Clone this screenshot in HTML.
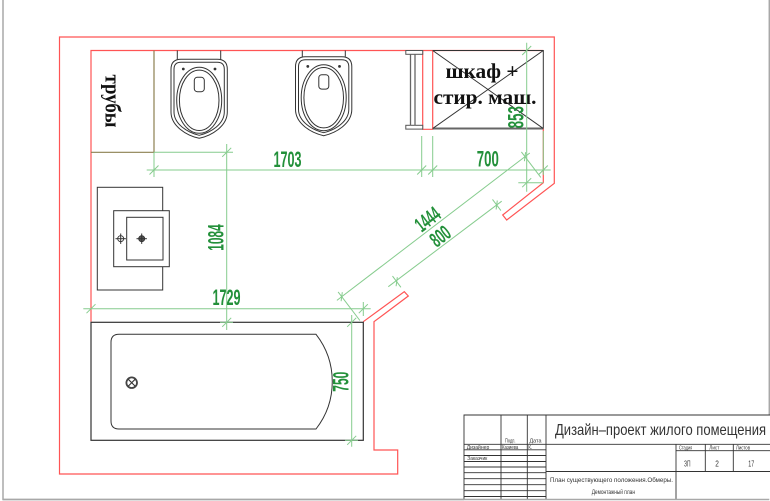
<!DOCTYPE html>
<html>
<head>
<meta charset="utf-8">
<style>
html,body{margin:0;padding:0;background:#fff;}
body{width:770px;height:501px;overflow:hidden;}
svg{display:block;}
.w{fill:none;stroke:#ff5454;stroke-width:1.2;}
.k{fill:none;stroke:#333;stroke-width:1;}
.kf{fill:#fff;stroke:#333;stroke-width:1;}
.g{fill:none;stroke:#86cc8e;stroke-width:1;}
.d{font-family:"Liberation Sans",sans-serif;font-weight:bold;font-size:22px;fill:#23903a;}
.t{font-family:"Liberation Sans","Noto Sans CJK SC",sans-serif;fill:#333;}
.s{font-family:"Liberation Serif","Noto Serif CJK SC",serif;font-weight:bold;font-size:21px;fill:#111;}
.tb{fill:none;stroke:#333;stroke-width:0.9;}
</style>
</head>
<body>
<svg width="770" height="501" viewBox="0 0 770 501" xmlns="http://www.w3.org/2000/svg">
<rect x="0" y="0" width="770" height="501" fill="#fff"/>

<!-- page border -->
<path d="M3,0 V499.5 H769.3 V0" fill="none" stroke="#a8a8a8" stroke-width="1.5"/>

<!-- walls -->
<path class="w" d="M363.3,321.7 L404.3,291.7 L408.3,296 L374,321.7 L374,450 L397.7,450 L397.7,474 L59.5,474 L59.5,37 L554.3,37 L554.3,183.3 L506.7,220 L502.7,215 L543.3,182.7 L543.3,128.5"/>
<path class="w" d="M91,321.7 V50.5 H543.3"/>
<path class="w" d="M422.7,50.5 V129.3 H432.7 V50.5"/>

<!-- pipe box partition -->
<path d="M154,50.5 V152.3 H91" fill="none" stroke="#8c8050" stroke-width="1.2"/>
<text class="s" style="font-size:22px" transform="translate(105.5,101) rotate(90)" text-anchor="middle" textLength="53" lengthAdjust="spacingAndGlyphs">трубы</text>

<!-- toilet 1 -->
<line class="k" x1="177.3" y1="50.5" x2="177.3" y2="59.3"/>
<line class="k" x1="220.7" y1="50.5" x2="220.7" y2="59.3"/>
<g id="toilet">
<path class="kf" d="M171,69.3 Q171,59.3 181,59.3 L217.3,59.3 Q227.3,59.3 227.3,69.3 L227.3,112 C227.3,126 212,135.5 199.2,138.3 C186.4,135.5 171,126 171,112 Z"/>
<path class="k" d="M174,69.3 Q174,62.3 181,62.3 L217.3,62.3 Q224.3,62.3 224.3,69.3 L224.3,112 C224.3,124 211,132.5 199.2,135.3 C187.4,132.5 174,124 174,112 Z"/>
<ellipse class="k" cx="199.2" cy="100.3" rx="22.5" ry="33"/>
<ellipse class="k" cx="199.2" cy="100.3" rx="19.8" ry="30.2"/>
<rect class="k" x="194.3" y="77.3" width="10" height="14.4" rx="3"/>
<circle cx="183.3" cy="69" r="1.4" fill="#333"/>
<circle cx="215" cy="69" r="1.4" fill="#333"/>
</g>
<!-- toilet 2 -->
<line class="k" x1="302.3" y1="50.5" x2="302.3" y2="56.7"/>
<line class="k" x1="345.3" y1="50.5" x2="345.3" y2="56.7"/>
<g transform="translate(124.5,-2.6)">
<path class="kf" d="M171,69.3 Q171,59.3 181,59.3 L217.3,59.3 Q227.3,59.3 227.3,69.3 L227.3,112 C227.3,126 212,135.5 199.2,138.3 C186.4,135.5 171,126 171,112 Z"/>
<path class="k" d="M174,69.3 Q174,62.3 181,62.3 L217.3,62.3 Q224.3,62.3 224.3,69.3 L224.3,112 C224.3,124 211,132.5 199.2,135.3 C187.4,132.5 174,124 174,112 Z"/>
<ellipse class="k" cx="199.2" cy="100.3" rx="22.5" ry="33"/>
<ellipse class="k" cx="199.2" cy="100.3" rx="19.8" ry="30.2"/>
<rect class="k" x="194.3" y="77.3" width="10" height="14.4" rx="3"/>
<circle cx="183.3" cy="69" r="1.4" fill="#333"/>
<circle cx="215" cy="69" r="1.4" fill="#333"/>
</g>

<!-- towel rail -->
<rect x="405.8" y="50.5" width="16.9" height="3.8" fill="#fff" stroke="#555" stroke-width="1"/>
<rect x="405.8" y="125.3" width="16.9" height="3.8" fill="#fff" stroke="#555" stroke-width="1"/>
<line x1="410.5" y1="54.3" x2="410.5" y2="125.3" stroke="#666" stroke-width="1.3"/>
<line x1="415" y1="54.3" x2="415" y2="125.3" stroke="#666" stroke-width="1.3"/>

<!-- cabinet -->
<path class="k" d="M432.7,50.5 H543.3 V128.5"/>
<line x1="432.7" y1="128.5" x2="543.3" y2="128.5" stroke="#666" stroke-width="2"/>
<line class="k" x1="432.7" y1="50.5" x2="543.3" y2="128.5"/>
<line class="k" x1="543.3" y1="50.5" x2="432.7" y2="128.5"/>
<text class="s" x="482" y="78" text-anchor="middle" textLength="73" lengthAdjust="spacingAndGlyphs">шкаф +</text>
<text class="s" x="485" y="104" text-anchor="middle" textLength="103" lengthAdjust="spacingAndGlyphs">стир. маш.</text>

<!-- vanity / sink -->
<rect class="kf" x="97.3" y="187.3" width="65.4" height="102.7"/>
<rect class="kf" x="113.7" y="210.7" width="55.6" height="56"/>
<rect class="kf" x="126.7" y="217.3" width="36.3" height="42.7"/>
<circle cx="120.7" cy="238.7" r="3" fill="none" stroke="#333" stroke-width="0.9"/>
<line class="k" x1="115.5" y1="238.7" x2="125.9" y2="238.7"/>
<line class="k" x1="120.7" y1="233.5" x2="120.7" y2="243.9"/>
<circle cx="141.7" cy="238.7" r="3" fill="#555" stroke="#333" stroke-width="0.9"/>
<line class="k" x1="136.5" y1="238.7" x2="146.9" y2="238.7"/>
<line class="k" x1="141.7" y1="233.5" x2="141.7" y2="243.9"/>

<!-- bathtub -->
<rect x="91" y="322.3" width="272.3" height="118" fill="#fff" stroke="#333" stroke-width="1.2"/>
<path class="k" d="M119,334.3 L316,334.3 A77,77 0 0 1 316,429 L119,429 Q111,429 111,421 L111,342.3 Q111,334.3 119,334.3 Z"/>
<circle cx="131.7" cy="382.7" r="5.3" fill="#fff" stroke="#444" stroke-width="1.8"/>
<line x1="128.3" y1="379.3" x2="135.1" y2="386.1" stroke="#333" stroke-width="1.1"/>
<line x1="135.1" y1="379.3" x2="128.3" y2="386.1" stroke="#333" stroke-width="1.1"/>

<!-- ===== dimensions ===== -->
<g class="g">
<!-- 1703 / 700 -->
<line x1="146.7" y1="170" x2="550.7" y2="170"/>
<line x1="154" y1="152.3" x2="154" y2="177"/>
<line x1="421.7" y1="136" x2="421.7" y2="177"/>
<line x1="432.7" y1="136" x2="432.7" y2="177"/>
<line x1="543.3" y1="131" x2="543.3" y2="175"/>
<line x1="149.5" y1="174.5" x2="158.5" y2="165.5"/>
<line x1="417.2" y1="174.5" x2="426.2" y2="165.5"/>
<line x1="428.2" y1="174.5" x2="437.2" y2="165.5"/>
<line x1="538.8" y1="174.5" x2="547.8" y2="165.5"/>
<!-- 1084 -->
<line x1="226.7" y1="144" x2="226.7" y2="330"/>
<line x1="154" y1="152.3" x2="233" y2="152.3"/>
<line x1="220" y1="322.3" x2="233" y2="322.3"/>
<line x1="222.2" y1="156.8" x2="231.2" y2="147.8"/>
<line x1="222.2" y1="326.8" x2="231.2" y2="317.8"/>
<!-- 1729 -->
<line x1="83.3" y1="308.7" x2="370.7" y2="308.7"/>
<line x1="363.3" y1="302" x2="363.3" y2="316"/>
<line x1="86.5" y1="313.2" x2="95.5" y2="304.2"/>
<line x1="358.8" y1="313.2" x2="367.8" y2="304.2"/>
<!-- 750 -->
<line x1="351.7" y1="315" x2="351.7" y2="446.7"/>
<line x1="345" y1="440.3" x2="358" y2="440.3"/>
<line x1="347.2" y1="326.8" x2="356.2" y2="317.8"/>
<line x1="347.2" y1="444.8" x2="356.2" y2="435.8"/>
<!-- 853 -->
<line x1="526.7" y1="42.7" x2="526.7" y2="191.7"/>
<line x1="518.3" y1="182.7" x2="543.3" y2="182.7"/>
<line x1="522.2" y1="55" x2="531.2" y2="46"/>
<line x1="522.2" y1="187.2" x2="531.2" y2="178.2"/>
<!-- 1444 diagonal -->
<line x1="336.9" y1="300.4" x2="529.8" y2="153"/>
<line x1="338.1" y1="291.9" x2="359.9" y2="320.5"/>
<line x1="521.4" y1="151.9" x2="540.8" y2="177.4"/>
<line x1="341.1" y1="301.2" x2="342.3" y2="292.2"/>
<line x1="524.4" y1="161.2" x2="525.6" y2="152.2"/>
<!-- 800 diagonal -->
<line x1="388.3" y1="286.7" x2="501.7" y2="201.2"/>
<line x1="392.5" y1="276.1" x2="400.9" y2="287.3"/>
<line x1="492.5" y1="199.4" x2="500.9" y2="210.6"/>
<line x1="396.1" y1="286.2" x2="397.3" y2="277.2"/>
<line x1="496.1" y1="209.5" x2="497.3" y2="200.5"/>
</g>

<text class="d" x="287.5" y="167" text-anchor="middle" textLength="28" lengthAdjust="spacingAndGlyphs">1703</text>
<text class="d" x="487.8" y="166.5" text-anchor="middle" textLength="22" lengthAdjust="spacingAndGlyphs">700</text>
<text class="d" x="226.5" y="305" text-anchor="middle" textLength="28" lengthAdjust="spacingAndGlyphs">1729</text>
<text class="d" transform="translate(223.3,237.5) rotate(-90)" text-anchor="middle" textLength="26.4" lengthAdjust="spacingAndGlyphs">1084</text>
<text class="d" transform="translate(348.3,381.7) rotate(-90)" text-anchor="middle" textLength="20" lengthAdjust="spacingAndGlyphs">750</text>
<text class="d" transform="translate(523.3,117.2) rotate(-90)" text-anchor="middle" textLength="22" lengthAdjust="spacingAndGlyphs">853</text>
<text class="d" style="font-size:21px" transform="translate(431.9,225) rotate(-37.4)" text-anchor="middle" textLength="26" lengthAdjust="spacingAndGlyphs">1444</text>
<text class="d" style="font-size:21px" transform="translate(444.6,241.9) rotate(-37.4)" text-anchor="middle" textLength="20" lengthAdjust="spacingAndGlyphs">800</text>

<!-- ===== title block ===== -->
<rect x="464" y="415" width="310" height="90" fill="#fff" stroke="none"/>
<path class="tb" d="M464,499.5 V415 H770"/>
<line class="tb" x1="501" y1="415" x2="501" y2="499.5"/>
<line class="tb" x1="527.3" y1="415" x2="527.3" y2="499.5"/>
<line class="tb" x1="546" y1="415" x2="546" y2="499.5"/>
<line class="tb" x1="464" y1="444.3" x2="770" y2="444.3"/>
<line class="tb" x1="464" y1="449.8" x2="546" y2="449.8"/>
<line class="tb" x1="464" y1="455.5" x2="546" y2="455.5"/>
<line class="tb" x1="464" y1="461.5" x2="546" y2="461.5"/>
<line class="tb" x1="464" y1="467" x2="546" y2="467"/>
<line class="tb" x1="464" y1="472.7" x2="546" y2="472.7"/>
<line class="tb" x1="464" y1="478.7" x2="546" y2="478.7"/>
<line class="tb" x1="464" y1="484.7" x2="546" y2="484.7"/>
<line class="tb" x1="464" y1="490.7" x2="546" y2="490.7"/>
<line class="tb" x1="464" y1="496.5" x2="546" y2="496.5"/>
<line class="tb" x1="676" y1="444.3" x2="676" y2="499.5"/>
<line class="tb" x1="705.3" y1="444.3" x2="705.3" y2="471.5"/>
<line class="tb" x1="733.3" y1="444.3" x2="733.3" y2="471.5"/>
<line class="tb" x1="676" y1="450.7" x2="770" y2="450.7"/>
<line class="tb" x1="546" y1="471.5" x2="770" y2="471.5"/>
<path d="M3,499.5 H769.3" fill="none" stroke="#a8a8a8" stroke-width="1.5"/>

<text class="t" x="555" y="435" font-size="16" textLength="211" lengthAdjust="spacingAndGlyphs">Дизайн–проект жилого помещения</text>
<text class="t" x="505" y="442.6" font-size="5.5" textLength="10.5" lengthAdjust="spacingAndGlyphs">Подп.</text>
<text class="t" x="529.5" y="442.6" font-size="5.5" textLength="12" lengthAdjust="spacingAndGlyphs">Дата</text>
<text class="t" x="466.7" y="449" font-size="5.5" textLength="22.6" lengthAdjust="spacingAndGlyphs">Дизайнер</text>
<text class="t" x="502" y="449" font-size="5.5" textLength="16.3" lengthAdjust="spacingAndGlyphs">Казиева</text>
<text class="t" x="528.2" y="449" font-size="5.5" textLength="4" lengthAdjust="spacingAndGlyphs">К.</text>
<text class="t" x="467.3" y="460" font-size="5.5" textLength="20" lengthAdjust="spacingAndGlyphs">Заказчик</text>
<text class="t" x="679" y="449.6" font-size="5.5" textLength="13.3" lengthAdjust="spacingAndGlyphs">Стадия</text>
<text class="t" x="709.3" y="449.6" font-size="5.5" textLength="10" lengthAdjust="spacingAndGlyphs">Лист</text>
<text class="t" x="736" y="449.6" font-size="5.5" textLength="14" lengthAdjust="spacingAndGlyphs">Листов</text>
<text class="t" x="684" y="466.5" font-size="8" textLength="6.5" lengthAdjust="spacingAndGlyphs">ЗП</text>
<text class="t" x="715.3" y="466.5" font-size="8" textLength="3.6" lengthAdjust="spacingAndGlyphs">2</text>
<text class="t" x="748.3" y="466.5" font-size="8" textLength="6" lengthAdjust="spacingAndGlyphs">17</text>
<text class="t" x="550" y="482" font-size="6.5" textLength="123" lengthAdjust="spacingAndGlyphs">План существующего положения.Обмеры.</text>
<text class="t" x="591.7" y="494" font-size="6.5" textLength="43.3" lengthAdjust="spacingAndGlyphs">Демонтажный план</text>
</svg>
</body>
</html>
